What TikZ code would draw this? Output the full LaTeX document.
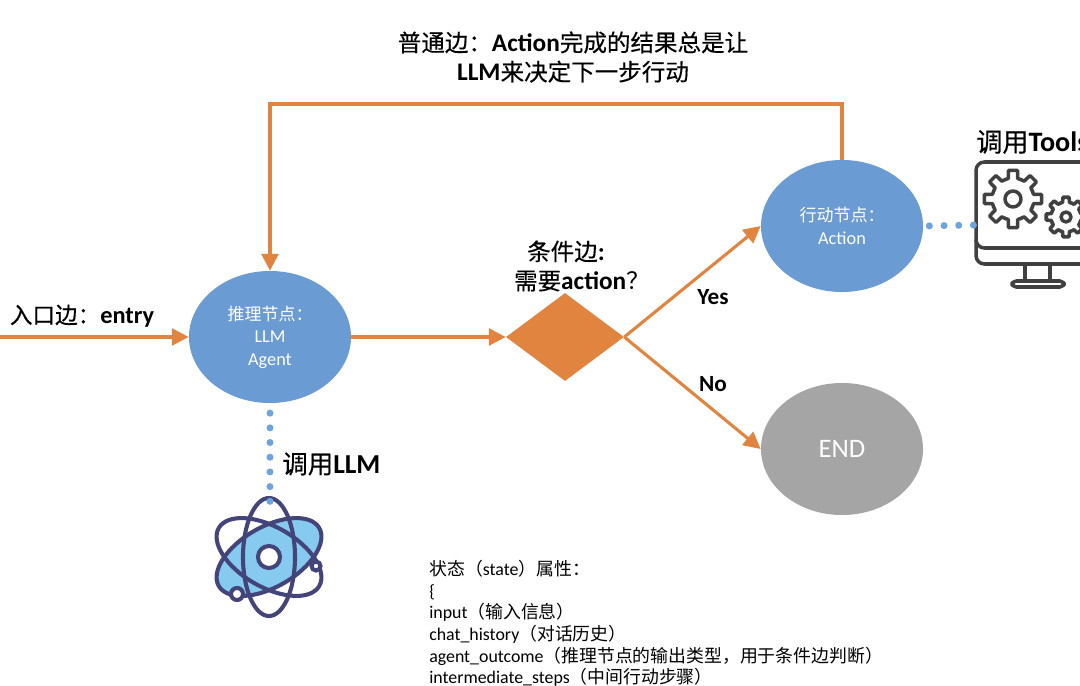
\documentclass[tikz,border=0pt]{standalone}
\usepackage{fontspec}
\setmainfont{Carlito}
\newfontfamily\cjk[Scale=0.93]{Noto Sans CJK SC}
\newfontfamily\cjkfull{Noto Sans CJK SC}
\newfontfamily\cjkheavy[Scale=0.93, FakeBold=0.35]{Noto Sans CJK SC}
\newcommand{\zh}[1]{{\mdseries\cjk #1}}
\newcommand{\zf}[1]{{\mdseries\cjkfull #1}}
\newcommand{\zb}[1]{{\mdseries\cjkheavy #1}}
\usetikzlibrary{shapes.geometric, arrows.meta}
\definecolor{edgeorange}{HTML}{E0843F}
\definecolor{nodeblue}{HTML}{6A9BD2}
\definecolor{dotblue}{HTML}{6FA3DC}
\definecolor{endgrey}{HTML}{A5A5A5}
\definecolor{iconline}{HTML}{404040}
\definecolor{atomline}{HTML}{43457A}
\definecolor{atomfill}{HTML}{86CBEF}
\newcommand{\gearshape}[4]{
    \foreach \a in {0, 45, ..., 315} {
        \draw[iconstroke, shift={(#1, #2)}] (\a-22.5:#4) -- (\a-13:#4) -- (\a-9:#3) -- (\a+9:#3) -- (\a+13:#4) -- (\a+22.5:#4);
    }
}
\begin{document}
\begin{tikzpicture}[x = 0.025cm, y = -0.025cm,
        flowline/.style = {draw = edgeorange, line width = 2.2pt, -{Triangle[length = 12pt, width = 12pt]}},
        dotline/.style = {draw = dotblue, line width = 5pt, line cap = round, dash pattern = on 0pt off 10.45pt},
        roundnode/.style = {ellipse, minimum width = 4.05cm, minimum height = 3.3cm, inner sep = 0pt, text = white, align = center, font = \fontsize{13pt}{16pt}\selectfont},
        boldlabel/.style = {align = center, font = \fontsize{18pt}{20.8pt}\selectfont\bfseries, inner sep = 0pt},
        iconstroke/.style = {draw = iconline, line width = 2.5pt, line join = round, line cap = round},
        atomstroke/.style = {draw = atomline, line width = 2.9pt}]

    \useasboundingbox (0, 0) rectangle (1080, 685);

    \node (agent) at (270, 337) [roundnode, fill = nodeblue] {\zh{推理节点：}\\LLM\\Agent};
    \node (action) at (842, 226) [roundnode, fill = nodeblue] {\zh{行动节点：}\\Action};
    \node (finish) at (842, 449) [roundnode, fill = endgrey, font = \fontsize{19pt}{22pt}\selectfont] {END};
    \node (check) at (565, 337) [diamond, fill = edgeorange, minimum width = 2.95cm, minimum height = 2.2cm, inner sep = 0pt, aspect = 1.34] {};

    \coordinate (entry) at (0, 337);
    \coordinate (loop) at (842, 104);
    \coordinate (atomtop) at (270, 503);
    \coordinate (screenedge) at (976, 225);

    \draw[flowline] (entry) -- (agent.west);
    \draw[flowline] (agent.east) -- (check.west);
    \draw[flowline] (check.east) -- (action.west);
    \draw[flowline] (check.east) -- (finish.west);
    \draw[flowline] (action.north) -- (loop) -| (agent.north);

    \node (looptext) at (573, 57) [boldlabel] {\zb{普通边：}Action\zb{完成的结果总是让}\\LLM\zb{来决定下一步行动}};
    \node (entrytext) at (82, 316) [boldlabel, font = \fontsize{17.3pt}{20pt}\selectfont\bfseries] {\zb{入口边：}entry};
    \node (checktext) at (582, 266) [boldlabel] {\zb{条件边}:\hspace*{22.8pt}\\\zb{需要}action\zh{？}};
    \node (yestext) at (713, 297) [boldlabel, font = \fontsize{16.5pt}{18pt}\selectfont\bfseries] {Yes};
    \node (notext) at (713, 384) [boldlabel, font = \fontsize{16.5pt}{18pt}\selectfont\bfseries] {No};
    \node (llmtext) at (282, 464) [boldlabel, anchor = west, font = \fontsize{19.5pt}{22pt}\selectfont\bfseries] {\zb{调用}LLM};
    \node (toolstext) at (976, 142) [boldlabel, anchor = west, font = \fontsize{20pt}{22pt}\selectfont\bfseries] {\zb{调用}Tools};

    \node (statetext) at (429, 560) [anchor = north west, align = left, inner sep = 0pt, font = \fontsize{12.7pt}{15.4pt}\selectfont] {\zf{状态（}state\zf{）属性：}\\\{\\input\zf{（输入信息）}\\chat\_history\zf{（对话历史）}\\agent\_outcome\zf{（推理节点的输出类型，用于条件边判断）}\\intermediate\_steps\zf{（中间行动步骤）}};

    \draw[iconstroke, rounded corners = 6pt] (1095, 248) -- (976, 248) -- (976, 162) -- (1095, 162);
    \draw[iconstroke, rounded corners = 6pt] (976, 240) -- (976, 264) -- (1095, 264);
    \draw[iconstroke] (1025, 264) -- (1025, 281);
    \draw[iconstroke] (1050, 264) -- (1050, 281);
    \draw[iconstroke, rounded corners = 3pt] (1012, 287) -- (1012, 281) -- (1064, 281) -- (1064, 287) -- cycle;
    \gearshape{1013}{199}{29}{21}
    \gearshape{1066}{217}{20}{15}
    \draw[iconstroke] (1013, 199) circle (8);
    \draw[iconstroke] (1066, 217) circle (5);

    \fill[atomfill, rotate around = {-60:(269, 557)}] (269, 557) ellipse (30 and 58);
    \draw[atomstroke] (269, 557) ellipse (26 and 59);
    \foreach \r in {60, -60} {
        \draw[atomstroke, rotate around = {\r:(269, 557)}] (269, 557) ellipse (30 and 58);
    }
    \draw[atomstroke, fill = white] (269, 557) circle (11);
    \draw[atomstroke, fill = white] (237, 594) circle (6);
    \draw[atomstroke, fill = white] (316, 566) circle (4.5);

    \draw[dotline, shorten < = 7pt] (agent.south) -- (atomtop);
    \draw[dotline, shorten < = 4.3pt] (action.east) -- (screenedge);
\end{tikzpicture}
\end{document}
